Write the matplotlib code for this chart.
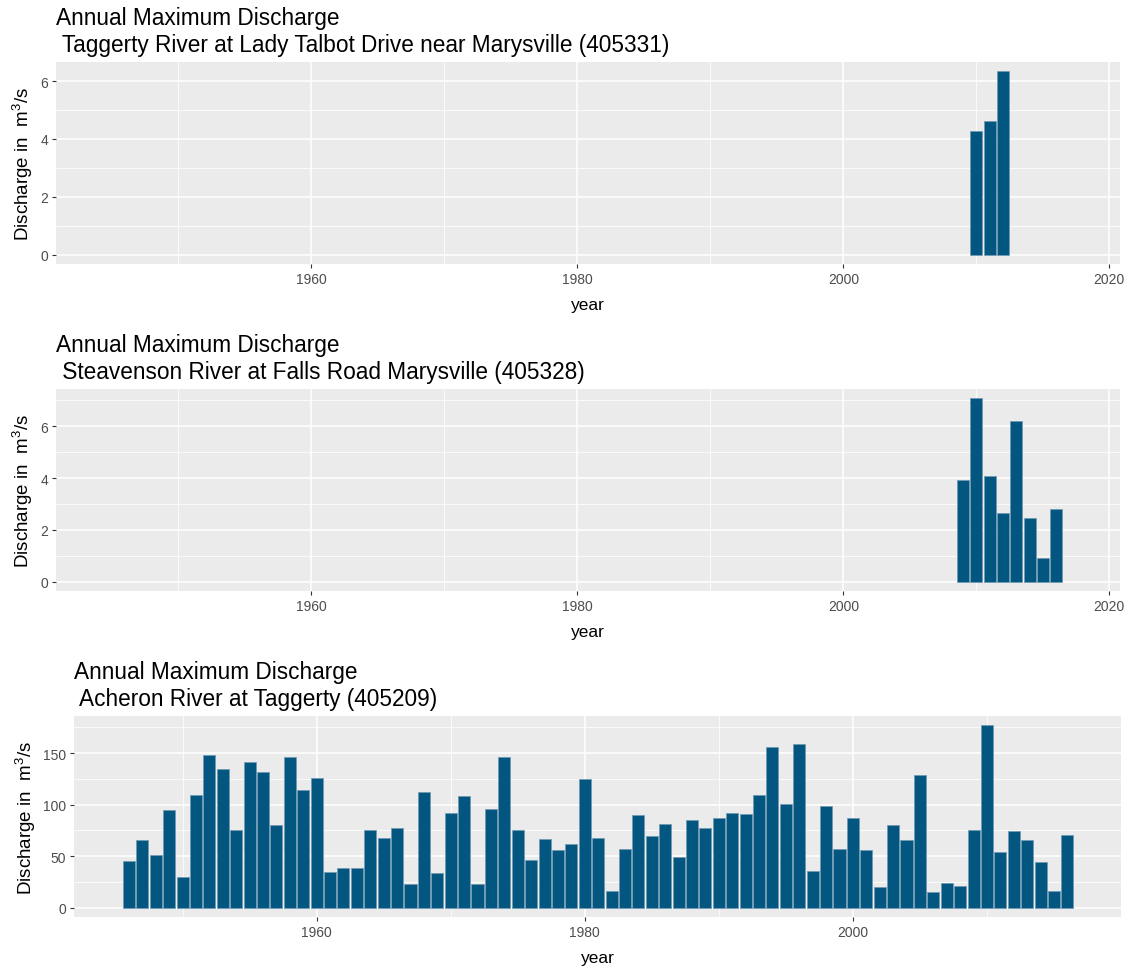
import matplotlib.pyplot as plt
from matplotlib.ticker import MultipleLocator, FixedLocator

plt.rcParams['font.family'] = ['Liberation Sans', 'DejaVu Sans']
plt.rcParams['mathtext.fontset'] = 'custom'
plt.rcParams['mathtext.rm'] = 'Liberation Sans'
plt.rcParams['mathtext.it'] = 'Liberation Sans:italic'

# Taggerty River at Lady Talbot Drive near Marysville (405331)
years_taggerty = [2010, 2011, 2012]
q_taggerty = [4.27, 4.63, 6.35]

# Steavenson River at Falls Road Marysville (405328)
years_steavenson = [2009, 2010, 2011, 2012, 2013, 2014, 2015, 2016]
q_steavenson = [3.93, 7.09, 4.07, 2.67, 6.22, 2.47, 0.90, 2.81]

# Acheron River at Taggerty (405209)
years_acheron = list(range(1946, 2017))
q_acheron = [45, 66, 51, 95, 30, 109, 148, 135, 75, 141,
             132, 80, 146, 114, 126, 35, 39, 39, 75, 68,
             77, 23, 112, 34, 92, 108, 23, 96, 146, 75,
             46, 67, 56, 62, 125, 68, 16, 57, 90, 70,
             81, 49, 85, 77, 87, 92, 91, 109, 156, 101,
             159, 36, 99, 57, 87, 56, 20, 80, 66, 129,
             15, 24, 21, 75, 177, 54, 74, 66, 44, 16,
             71]

titles = [
    "Annual Maximum Discharge\n Taggerty River at Lady Talbot Drive near Marysville (405331)",
    "Annual Maximum Discharge\n Steavenson River at Falls Road Marysville (405328)",
    "Annual Maximum Discharge\n Acheron River at Taggerty (405209)",
]
xticks_full = [1960, 1980, 2000, 2020]
xticks_short = [1960, 1980, 2000]

BAR = '#02567f'
BG = '#ebebeb'

W, H = 1133, 970
fig = plt.figure(figsize=(W / 100, H / 100), dpi=100)


def px_axes(left, top, right, bottom):
    return fig.add_axes([left / W, 1 - bottom / H, (right - left) / W, (bottom - top) / H])


panels = [
    (px_axes(56, 63, 1120, 265), years_taggerty, q_taggerty, (1940.8, 2020.8), (-0.32, 6.66), 2, xticks_full),
    (px_axes(56, 390, 1120, 592), years_steavenson, q_steavenson, (1940.8, 2020.8), (-0.355, 7.44), 2, xticks_full),
    (px_axes(74, 717, 1121, 918), years_acheron, q_acheron, (1941.9, 2020.0), (-8.85, 185.9), 50, xticks_short),
]

for (ax, yrs, q, xlim, ylim, ystep, xt), title in zip(panels, titles):
    ax.set_facecolor(BG)
    ax.bar(yrs, q, width=0.9, color=BAR, edgecolor='#6f98b3', linewidth=0.5, zorder=3)
    ax.set_xlim(*xlim)
    ax.set_ylim(*ylim)
    ax.xaxis.set_major_locator(FixedLocator(xt))
    ax.xaxis.set_minor_locator(FixedLocator([1950, 1970, 1990, 2010]))
    ax.yaxis.set_major_locator(MultipleLocator(ystep))
    ax.yaxis.set_minor_locator(MultipleLocator(ystep / 2))
    ax.grid(which='major', color='white', linewidth=1.1, zorder=0)
    ax.grid(which='minor', color='white', linewidth=0.55, zorder=0)
    ax.set_axisbelow(True)
    for s in ax.spines.values():
        s.set_visible(False)
    ax.tick_params(which='major', length=3, width=0.8, color='#333333',
                   labelsize=10, labelcolor='#4d4d4d', pad=2.5)
    ax.tick_params(which='minor', length=0)
    ax.set_xlabel('year', fontsize=12.5, labelpad=8)
    ax.set_ylabel(r'Discharge in  m$^3$/s', fontsize=13.5, labelpad=4)
    ax.set_title(title, loc='left', fontsize=16.3, pad=8, linespacing=1.2)

fig.savefig('out.png', dpi=100)
